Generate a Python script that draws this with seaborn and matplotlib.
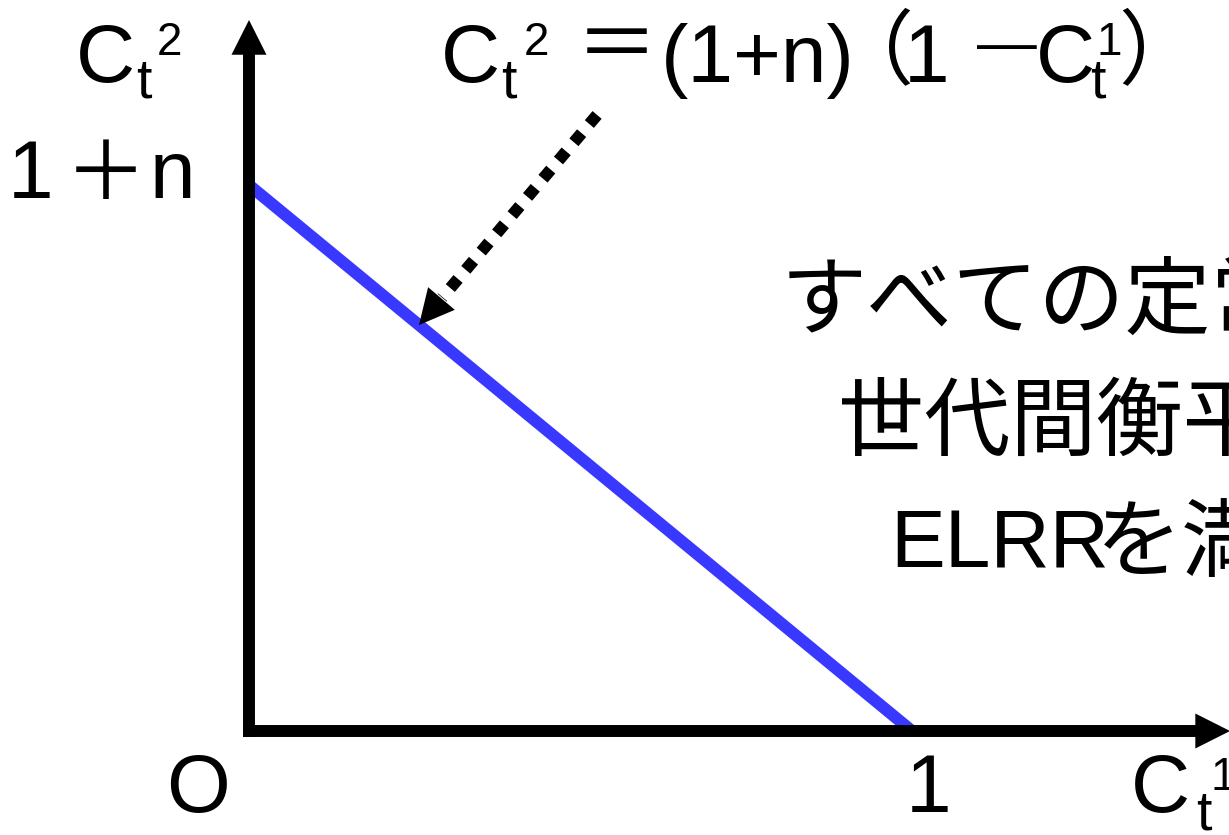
import matplotlib
matplotlib.use("Agg")
import matplotlib.pyplot as plt
import seaborn as sns

# schematic budget line C2 = (1+n)(1-C1); n only used to scale the picture
n_rate = 0.2
c1_pts = [0.0, 1.0]
c2_pts = [(1 + n_rate) * (1 - c) for c in c1_pts]

# dotted pointer from the formula down onto the line
c1_hit = 0.2564
pointer_from = (0.525, 1.354)
pointer_to = (c1_hit, (1 + n_rate) * (1 - c1_hit))

# axis arrow ends
y_axis_top = 1.5626
x_axis_right = 1.4797

sns.set_theme(style="white")
plt.rcParams["font.family"] = ["Liberation Sans", "Noto Sans CJK JP"]

W, H = 1229, 835
fig = plt.figure(figsize=(W / 100, H / 100), dpi=100)
ax = fig.add_axes([0, 0, 1, 1])
ax.set_xlim(-249 / 663, (W - 249) / 663)
ax.set_ylim(-(H - 731) / 455, 731 / 455)
ax.axis("off")

LW = 8.6
head = dict(arrowstyle="-|>,head_length=25,head_width=12.6", mutation_scale=1,
            lw=0, fc="black", ec="none", shrinkA=0, shrinkB=0)

# axes with arrow heads
ax.plot([0, 0], [-6 / 455, y_axis_top - 30 / 455], color="black", lw=LW, solid_capstyle="butt", zorder=3)
ax.plot([-6 / 663, x_axis_right - 30 / 663], [0, 0], color="black", lw=LW, solid_capstyle="butt", zorder=3)
ax.annotate("", xy=(0, y_axis_top), xytext=(0, 0), arrowprops=head, zorder=3,
            annotation_clip=False)
ax.annotate("", xy=(x_axis_right, 0), xytext=(0, 0), arrowprops=head, zorder=3,
            annotation_clip=False)

# the line
sns.lineplot(x=c1_pts, y=c2_pts, color="#3838ff", lw=LW, ax=ax,
             solid_capstyle="butt", zorder=2)

# dotted pointer
f = 0.87
pb = (pointer_from[0] + f * (pointer_to[0] - pointer_from[0]),
      pointer_from[1] + f * (pointer_to[1] - pointer_from[1]))
ax.plot([pointer_from[0], pb[0]], [pointer_from[1], pb[1]], color="black", lw=LW,
        ls=(0, (1, 1)), dash_capstyle="butt")
ax.annotate("", xy=pointer_to, xytext=pointer_from, arrowprops=head)


def put(s, x, y, size, fam="Liberation Sans"):
    fig.text(x / W, 1 - y / H, s, fontsize=size, ha="left", va="baseline",
             family=fam, color="black")


BIG, SUB, SUP = 59, 40, 33
CJK = "Noto Sans CJK JP"

# y-axis label
put("C", 76, 82, BIG)
put("t", 136, 97, SUB)
put("2", 157, 55, SUP)

# formula
put("C", 441, 82, BIG)
put("t", 501, 97, SUB)
put("2", 524, 55, SUP)
put("＝", 576, 72, BIG, CJK)
put("(1+n)", 661, 82, BIG)
put("（", 832, 78, BIG, CJK)
put("1", 904, 82, BIG)
put("—", 977, 62, 43)
put("C", 1036, 82, BIG)
put("t", 1090, 97, SUB)
put("1", 1097, 55, SUP)
put("）", 1118, 78, BIG, CJK)

# 1+n tick
put("1", 8, 198, BIG)
put("＋", 65, 200, BIG, CJK)
put("n", 150, 198, BIG)

# x-axis ticks and label
put("O", 166, 812, BIG)
put("1", 906, 812, BIG)
put("C", 1131, 812, BIG)
put("t", 1196, 829, SUB)
put("1", 1210, 790, SUP)

# statement text
put("すべての定常", 781, 328, 62, CJK)
put("世代間衡平", 838, 449, 62, CJK)
put("ELRR", 890, 567, BIG, ["Liberation Sans Narrow", "Liberation Sans"])
put("を満", 1096, 570, 62, CJK)

fig.savefig("out.png", dpi=100)
